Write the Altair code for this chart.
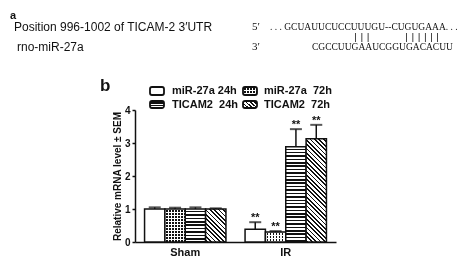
import math
import altair as alt
import pandas as pd

# ---------------- data ----------------
groups = ["Sham", "IR"]
series = ["miR-27a 24h", "miR-27a 72h", "TICAM2 24h", "TICAM2 72h"]
values_sham = [1.00, 1.00, 1.00, 1.00]
errors_sham = [0.05, 0.04, 0.05, 0.02]
values_ir = [0.39, 0.30, 2.89, 3.13]
errors_ir = [0.21, 0.03, 0.53, 0.42]
stars_sham = ["", "", "", ""]
stars_ir = ["**", "**", "**", "**"]
y_ticks = [0, 1, 2, 3, 4]
legend_labels = ["miR-27a 24h", "miR-27a\u00a0 72h", "TICAM2\u00a0 24h", "TICAM2\u00a0 72h"]

panel_a = "a"
panel_b = "b"
site_label = "Position 996-1002 of TICAM-2 3\u2032UTR"
mirna_label = "rno-miR-27a"
end5 = "5\u2032"
end3 = "3\u2032"
seq_top = ". . . GCUAUUCUCCUUUGU--CUGUGAAA. . ."
seq_bottom = "CGCCUUGAAUCGGUGACACUU"
pairs_a = "| | |"
pairs_b = "| | | | | |"
y_title = "Relative mRNA level \u00b1 SEM"

rows = []
for g, vals, errs, st in [("Sham", values_sham, errors_sham, stars_sham),
                          ("IR", values_ir, errors_ir, stars_ir)]:
    for s, v, e, t in zip(series, vals, errs, st):
        rows.append({"group": g, "series": s, "value": v, "err": e, "star": t})
df = pd.DataFrame(rows)
df["top"] = df["value"] + df["err"]

# ---------------- layout ----------------
W, H = 201, 132
PADL, PADT = 127, 102
PADR = 456 - PADL - W
PADB = 249 - PADT - H
YMAX = 4
PAD_OUT = 0.47
BAR_W = (W / len(groups)) / (len(series) + 2 * PAD_OUT)
PX_PER_UNIT = H / YMAX
DARK = "#111111"


# ---------------- patterns (gradients) ----------------
def stripe_stops(n, frac, dark=DARK, light="#ffffff"):
    stops = []
    k = 0
    while k < n:
        a = round(k / n, 5)
        b = round(min((k + 1 - frac) / n, 1), 5)
        c = round(min((k + 1) / n, 1), 5)
        stops += [{"offset": a, "color": light}, {"offset": b, "color": light},
                  {"offset": b, "color": dark}, {"offset": c, "color": dark}]
        k += 1
    return stops


def hstripes(h, period=3.4, frac=0.45):
    n = max(h / period, 1)
    return {"gradient": "linear", "x1": 0, "y1": 0, "x2": 0, "y2": 1,
            "stops": stripe_stops(n, frac)}


def vstripes(w, period=3.0, frac=0.55):
    n = max(w / period, 1)
    return {"gradient": "linear", "x1": 0, "y1": 0, "x2": 1, "y2": 0,
            "stops": stripe_stops(n, frac)}


def dstripes(w, h, period=3.1, frac=0.4):
    s = (w + h) / (w * w + h * h)
    n = max((w + h) / (period * math.sqrt(2)), 1)
    return {"gradient": "linear", "x1": 1, "y1": 0,
            "x2": round(1 - s * w, 5), "y2": round(s * h, 5),
            "stops": stripe_stops(n, frac)}


def base_fill(s, w, h):
    if s == series[0]:
        return "#ffffff"
    if s == series[1]:
        return vstripes(w)
    if s == series[2]:
        return hstripes(h)
    return dstripes(w, h)


cond_base = []
cond_over = []
for r in rows:
    h = r["value"] * PX_PER_UNIT
    test = f"datum.group === '{r['group']}' && datum.series === '{r['series']}'"
    cond_base.append({"test": test, "value": base_fill(r["series"], BAR_W, h)})
    if r["series"] == series[1]:
        cond_over.append({"test": test, "value": hstripes(h, period=3.0, frac=0.55)})

FONT = "Liberation Sans"
SERIF = "Liberation Serif"

x_enc = alt.X("group:N", sort=groups,
              scale=alt.Scale(domain=groups, paddingInner=0, paddingOuter=0),
              axis=alt.Axis(title=None, ticks=False, labelAngle=0, labelFont=FONT,
                            labelFontWeight="bold", labelFontSize=11, labelColor=DARK,
                            labelPadding=4, domainColor=DARK, domainWidth=1.5))
xo_enc = alt.XOffset("series:N", sort=series,
                     scale=alt.Scale(domain=series, paddingInner=0, paddingOuter=PAD_OUT))

y_scale = alt.Scale(domain=[0, YMAX], nice=False, zero=True)
y_axis = alt.Axis(values=y_ticks, tickCount=5, format="d", title=y_title, grid=False,
                  tickSize=3, tickWidth=1.5, tickColor=DARK,
                  domainColor=DARK, domainWidth=1.5,
                  labelFont=FONT, labelFontWeight="bold", labelFontSize=10,
                  labelColor=DARK, labelPadding=2, labelOverlap=False,
                  titleFont=FONT, titleFontWeight="bold", titleFontSize=10,
                  titleColor=DARK, titlePadding=2)


def y_enc(field):
    return alt.Y(field, scale=y_scale, axis=y_axis, title=y_title)


base = alt.Chart(df)

bars = base.mark_bar(stroke=DARK, strokeWidth=1.5).encode(
    x=x_enc, xOffset=xo_enc, y=y_enc("value:Q"),
    fill=alt.FillValue(value="#ffffff", condition=cond_base),
)

# checkered pattern: horizontal stripes "lightened" over vertical stripes -> dots
overlay = base.transform_filter(alt.datum.series == series[1]).mark_bar(
    stroke=DARK, strokeWidth=1.5, blend="lighten").encode(
    x=x_enc, xOffset=xo_enc, y=y_enc("value:Q"),
    fill=alt.FillValue(value="#ffffff", condition=cond_over),
)

err_line = base.mark_rule(color=DARK, strokeWidth=1.5).encode(
    x=x_enc, xOffset=xo_enc, y=y_enc("value:Q"), y2="top:Q")

err_cap = base.mark_tick(color=DARK, thickness=2, size=12, orient="horizontal").encode(
    x=x_enc, xOffset=xo_enc, y=y_enc("top:Q"))

stars = base.mark_text(font=FONT, fontWeight="bold", fontSize=11, color=DARK,
                       baseline="alphabetic", dy=-1).encode(
    x=x_enc, xOffset=xo_enc, y=y_enc("top:Q"), text="star:N")

ORIGIN_X = 8 + PADL
ORIGIN_Y = 8 + PADT


def label(text, px, py, font=FONT, size=12, weight="normal", align="left",
          baseline="middle"):
    return alt.Chart(alt.Data(values=[{"t": text}])).mark_text(
        font=font, fontSize=size, fontWeight=weight, align=align, baseline=baseline,
        color=DARK).encode(
        text="t:N", x=alt.value(px - ORIGIN_X), y=alt.value(py - ORIGIN_Y))


def swatch(fill, px1, px2, py1, py2, blend=None):
    kw = {"blend": blend} if blend else {}
    return alt.Chart(alt.Data(values=[{"t": 0}])).mark_rect(
        fill=fill, stroke=DARK, strokeWidth=1.8, cornerRadius=2, **kw).encode(
        x=alt.value(px1 - ORIGIN_X), x2=alt.value(px2 - ORIGIN_X),
        y=alt.value(py1 - ORIGIN_Y), y2=alt.value(py2 - ORIGIN_Y))


texts = [
    label(panel_a, 10, 10, size=11, weight="bold", baseline="top"),
    label(site_label, 14, 27, size=12),
    label(mirna_label, 17, 47, size=12),
    label(end5, 252, 27, font=SERIF, size=11),
    label(seq_top, 270, 27, font=SERIF, size=9.5),
    label(pairs_a, 354, 37, font="DejaVu Sans", size=9.5),
    label(pairs_b, 405, 37, font="DejaVu Sans", size=9.5),
    label(end3, 252, 47, font=SERIF, size=11),
    label(seq_bottom, 312, 47, font=SERIF, size=9.5),
    label(panel_b, 100, 86, size=17, weight="bold"),
]

sw_w, sw_h = 14, 8
legend = [
    swatch("#ffffff", 150, 164, 87, 95),
    swatch(vstripes(sw_w), 243, 257, 87, 95),
    swatch(hstripes(sw_h, period=3.0, frac=0.55), 243, 257, 87, 95, blend="lighten"),
    swatch(hstripes(sw_h, period=3.0), 150, 164, 101, 108),
    swatch(dstripes(sw_w, sw_h), 243, 257, 101, 108),
    label(legend_labels[0], 172, 91, size=11, weight="bold"),
    label(legend_labels[1], 264, 91, size=11, weight="bold"),
    label(legend_labels[2], 172, 105, size=11, weight="bold"),
    label(legend_labels[3], 264, 105, size=11, weight="bold"),
]

chart = alt.layer(bars, overlay, err_line, err_cap, stars, *texts, *legend).properties(
    width=W, height=H,
    padding={"left": PADL, "top": PADT, "right": PADR, "bottom": PADB},
    autosize=alt.AutoSizeParams(type="none"),
    background="white",
).configure_view(stroke=None)

chart.save("out.html", embed_options={"renderer": "svg", "actions": False})
